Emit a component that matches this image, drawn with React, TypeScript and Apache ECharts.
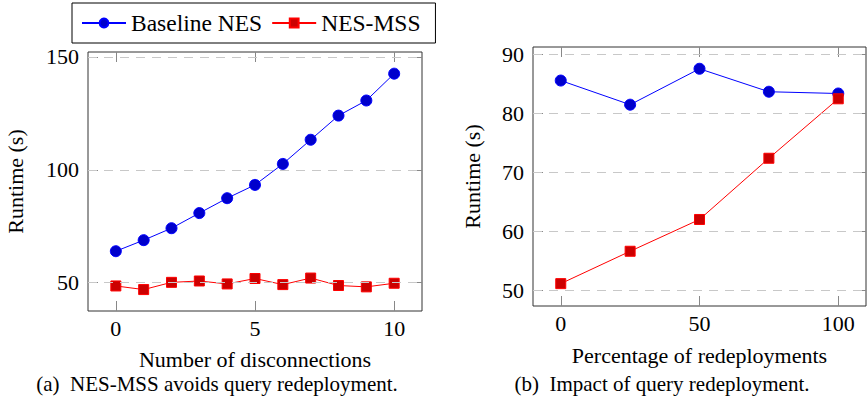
import React, { useEffect, useRef } from "react";
import * as echarts from "echarts";

const FONT = "Liberation Serif";

const disconnections = [0, 1, 2, 3, 4, 5, 6, 7, 8, 9, 10];
const baselineA = [63.9, 68.8, 74.1, 80.8, 87.4, 93.3, 102.6, 113.3, 124.0, 130.7, 142.6];
const mssA = [48.5, 46.9, 50.1, 50.7, 49.4, 51.8, 49.1, 52.0, 48.7, 48.1, 49.7];

const redeployPct = [0, 25, 50, 75, 100];
const baselineB = [85.6, 81.5, 87.6, 83.7, 83.4];
const mssB = [51.1, 56.6, 62.0, 72.4, 82.5];

const xTicksA = [0, 5, 10];
const yTicksA = [50, 100, 150];
const xTicksB = [0, 50, 100];
const yTicksB = [50, 60, 70, 80, 90];

const BLUE_LINE = "#0000ff";
const BLUE_FILL = "#0000cc";
const RED_LINE = "#ff0000";
const RED_FILL = "#cc0000";

function pairs(xs: number[], ys: number[]) {
  return xs.map((x, i) => [x, ys[i]]);
}

export default function App() {
  const ref = useRef<HTMLDivElement>(null);
  useEffect(() => {
    if (!ref.current) return;
    const chart = echarts.init(ref.current, null, { renderer: "svg" });

    const tickStyle = { color: "#888", width: 1 };
    const textBase = { fontSize: 22, fontFamily: FONT, color: "#000" };

    const mkX = (grid: number, min: number, max: number, ticks: number[], pos: string, name?: string, nameGap?: number) => {
      const ax: any = {
        type: "value", gridIndex: grid, min, max, position: pos,
        axisLine: { show: false, onZero: false },
        axisTick: { show: true, inside: true, length: 10, lineStyle: tickStyle, customValues: ticks },
        axisLabel: pos === "bottom"
          ? { show: true, customValues: ticks, fontSize: 22, fontFamily: FONT, color: "#000", margin: 6 }
          : { show: false, customValues: ticks },
        splitLine: { show: false },
      };
      if (name) { ax.name = name; ax.nameLocation = "middle"; ax.nameGap = nameGap; ax.nameTextStyle = { ...textBase }; }
      return ax;
    };
    const mkY = (grid: number, min: number, max: number, ticks: number[], pos: string, name?: string, nameGap?: number) => {
      const ax: any = {
        type: "value", gridIndex: grid, min, max, position: pos,
        axisLine: { show: false, onZero: false },
        axisTick: { show: true, inside: true, length: 10, lineStyle: tickStyle, customValues: ticks },
        axisLabel: pos === "left"
          ? { show: true, customValues: ticks, fontSize: 22, fontFamily: FONT, color: "#000", margin: 9 }
          : { show: false, customValues: ticks },
        splitLine: { show: false },
      };
      if (name) { ax.name = name; ax.nameLocation = "middle"; ax.nameGap = nameGap; ax.nameRotate = 90; ax.nameTextStyle = { ...textBase }; }
      return ax;
    };

    const gridLines = (ticks: number[]) => ({
      silent: true,
      symbol: "none",
      label: { show: false },
      lineStyle: { type: [9, 7], color: "#c8c8c8", width: 1 },
      data: ticks.map((t) => ({ yAxis: t })),
    });

    const blueSeries = (xi: number, yi: number, data: number[][], ml?: any) => ({
      type: "line", name: "Baseline NES", xAxisIndex: xi, yAxisIndex: yi, data,
      symbol: "circle", symbolSize: 11,
      lineStyle: { color: BLUE_LINE, width: 1 },
      itemStyle: { color: BLUE_FILL, borderColor: BLUE_LINE, borderWidth: 1 },
      markLine: ml,
    });
    const redSeries = (xi: number, yi: number, data: number[][]) => ({
      type: "line", name: "NES-MSS", xAxisIndex: xi, yAxisIndex: yi, data,
      symbol: "rect", symbolSize: 10,
      lineStyle: { color: RED_LINE, width: 1 },
      itemStyle: { color: RED_FILL, borderColor: RED_LINE, borderWidth: 1 },
    });

    chart.setOption({
      animation: false,
      textStyle: { fontFamily: FONT },
      legend: {
        data: ["Baseline NES", "NES-MSS"], left: 72, top: 3, orient: "horizontal",
        borderColor: "#000", borderWidth: 1, padding: [8, 15, 8, 9],
        itemWidth: 44, itemHeight: 11, itemGap: 9,
        textStyle: { fontSize: 23.5, fontFamily: FONT, color: "#000" },
      },
      grid: [
        { left: 88, top: 52, width: 334, height: 259, show: true, borderColor: "#333", borderWidth: 1 },
        { left: 533, top: 47, width: 333, height: 259, show: true, borderColor: "#333", borderWidth: 1 },
      ],
      xAxis: [
        mkX(0, -1, 11, xTicksA, "bottom", "Number of disconnections", 37),
        mkX(0, -1, 11, xTicksA, "top"),
        mkX(1, -10, 110, xTicksB, "bottom", "Percentage of redeployments", 38),
        mkX(1, -10, 110, xTicksB, "top"),
      ],
      yAxis: [
        mkY(0, 37.4, 152.2, yTicksA, "left", "Runtime (s)", 62),
        mkY(0, 37.4, 152.2, yTicksA, "right"),
        mkY(1, 47.3, 91.3, yTicksB, "left", "Runtime (s)", 50),
        mkY(1, 47.3, 91.3, yTicksB, "right"),
      ],
      series: [
        blueSeries(0, 0, pairs(disconnections, baselineA), gridLines(yTicksA)),
        redSeries(0, 0, pairs(disconnections, mssA)),
        blueSeries(2, 2, pairs(redeployPct, baselineB), gridLines(yTicksB)),
        redSeries(2, 2, pairs(redeployPct, mssB)),
      ],
      graphic: [
        { type: "text", x: 217, y: 384, style: { text: "(a)\u2002NES-MSS avoids query redeployment.", fontSize: 21, fontFamily: FONT, fill: "#000", align: "center", verticalAlign: "middle" } },
        { type: "text", x: 662, y: 384, style: { text: "(b)\u2002Impact of query redeployment.", fontSize: 21, fontFamily: FONT, fill: "#000", align: "center", verticalAlign: "middle" } },
      ],
    });
    return () => chart.dispose();
  }, []);
  return (
    <div
      ref={ref}
      style={{ position: "fixed", left: 0, top: 0, width: 867, height: 401, background: "#fff" }}
    />
  );
}
